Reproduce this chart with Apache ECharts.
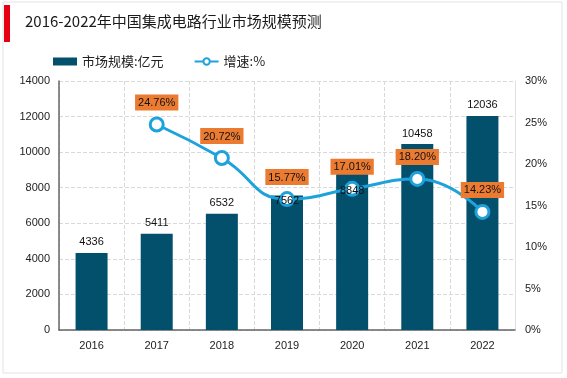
<!DOCTYPE html>
<html><head><meta charset="utf-8">
<script src="https://cdn.jsdelivr.net/npm/echarts@6/dist/echarts.min.js"></script>
<style>html,body{margin:0;padding:0;background:#fff}#c{width:567px;height:378px}</style>
</head><body><div id="c"></div>
<script>
const categories = ['2016','2017','2018','2019','2020','2021','2022'];
const marketSize = [4336, 5411, 6532, 7562, 8848, 10458, 12036];
const growth = [null, 24.76, 20.72, 15.77, 17.01, 18.20, 14.23];
const leftTicks = [0, 14000, 2000];
const rightTicks = [0, 30, 5];

const chart = echarts.init(document.getElementById('c'));
const font = 'Liberation Sans, Arial, sans-serif';
const labelData = marketSize.map((v, i) => {
  if (i === 3) return {value: v, label: {position: 'insideTop', distance: 0}};
  if (i === 4) return {value: v, label: {position: 'insideTop', distance: 13}};
  return v;
});
chart.setOption({
  animation: false,
  graphic: [
    {type:'rect', shape:{x:3,y:2,width:559,height:371}, style:{fill:'none', stroke:'#e3e3e3', lineWidth:1}},
    {type:'rect', shape:{x:4,y:5,width:6,height:37}, style:{fill:'#e60012'}},
    {type:'text', left:25, top:14, style:{text:'2016-2022年中国集成电路行业市场规模预测', fontSize:15, fontFamily:'Noto Sans CJK SC', fill:'#1a1a1a'}}
  ],
  legend: {
    top: 50, left: 48, itemGap: 30, itemWidth: 24, itemHeight: 8,
    textStyle: {fontSize: 13, fontFamily: 'Noto Sans CJK SC', color: '#222'},
    data: [
      {name:'市场规模:亿元', icon:'rect'},
      {name:'增速:%'}
    ]
  },
  grid: {left: 59, right: 52, top: 81, bottom: 48},
  xAxis: {
    type: 'category', data: categories,
    axisLine: {lineStyle: {color: '#666', width: 1.5}},
    axisTick: {show: false},
    axisLabel: {color: '#222', fontSize: 11, fontFamily: font, margin: 10},
    splitLine: {show: true, lineStyle: {color: '#d9d9d9', type: 'dashed'}}
  },
  yAxis: [
    {type:'value', min: leftTicks[0], max: leftTicks[1], interval: leftTicks[2],
     axisLine:{show:true, lineStyle:{color:'#666', width:1.5}}, axisTick:{show:false},
     axisLabel:{color:'#222', fontSize:11, fontFamily:font, margin:9, formatter: v => String(v)},
     splitLine:{lineStyle:{color:'#d9d9d9', type:'dashed'}}},
    {type:'value', min: rightTicks[0], max: rightTicks[1], interval: rightTicks[2],
     axisLine:{show:true, lineStyle:{color:'#e0e0e0'}}, axisTick:{show:false},
     axisLabel:{color:'#222', fontSize:11, fontFamily:font, margin:10, formatter:'{value}%'},
     splitLine:{show:false}}
  ],
  series: [
    {name:'市场规模:亿元', type:'bar', data: marketSize, barWidth: 32, z: 2,
     itemStyle:{color:'#03506d'}},
    {name:'增速:%', type:'line', yAxisIndex:1, data: growth, smooth: true,
     symbol:'circle', symbolSize: 13, z: 3,
     lineStyle:{color:'#1ea2dc', width:3},
     itemStyle:{color:'#fff', borderColor:'#1ea2dc', borderWidth:3},
     label:{show:true, position:'top', distance:6, formatter: p => p.value.toFixed(2)+'%',
       backgroundColor:'#ec7b32', color:'#111', fontSize:11, fontFamily:font, padding:[3,3,2,3]}},
    {name:'labels', type:'bar', data: labelData, barWidth: 32, barGap:'-100%', z: 6,
     itemStyle:{color:'rgba(0,0,0,0)'}, silent: true, legendHoverLink:false,
     label:{show:true, position:'top', color:'#111', fontSize:11, fontFamily:font, distance:5}}
  ]
});
</script></body></html>
